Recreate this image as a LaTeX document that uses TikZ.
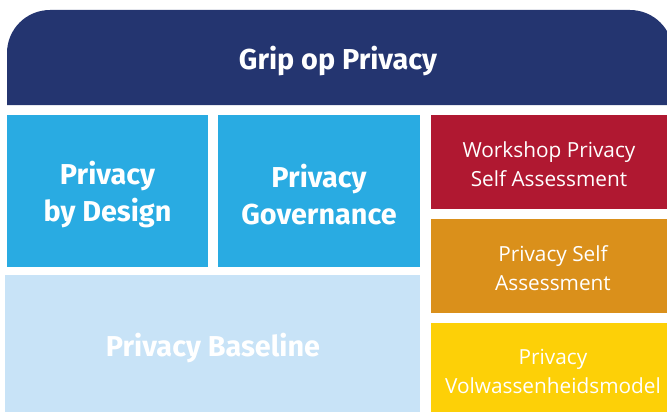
\documentclass[tikz,border=0pt]{standalone}
\usepackage{fontspec}
\setmainfont{Open Sans}
\newfontfamily\boldfam{Fira Sans}[UprightFont=* SemiBold, BoldFont=* Bold]
\definecolor{navy}{HTML}{243570}
\definecolor{skyb}{HTML}{29ABE2}
\definecolor{paleb}{HTML}{C8E3F7}
\definecolor{redb}{HTML}{B01831}
\definecolor{orangeb}{HTML}{DA901B}
\definecolor{yellowb}{HTML}{FDD007}
\tikzset{
  bigtxt/.style={text=white, align=center, font=\boldfam\bfseries\fontsize{28.8}{37}\selectfont},
  smalltxt/.style={text=white, align=center, font=\fontsize{20.8}{29}\selectfont},
}
\begin{document}
\begin{tikzpicture}[x=1pt,y=-1pt]
\useasboundingbox (0,0) rectangle (667,412);
\clip (0,0) rectangle (667,412);
\fill[navy] (7,105) -- (7,53) arc[start angle=180,end angle=270,radius=43] -- (630,10) arc[start angle=270,end angle=360,radius=43] -- (673,105) -- cycle;
\node[bigtxt] (top) at (338,61) {Grip op Privacy};
\fill[skyb] (7,115) rectangle (208,267);
\node[bigtxt] (pbd) at (107.5,194.5) {Privacy\\by Design};
\fill[skyb] (218,115) rectangle (420,267);
\node[bigtxt] (pg) at (319,194.5) {Privacy\\Governance};
\fill[paleb] (5,275) rectangle (420,415);
\node[bigtxt] (pb) at (213,348.5) {Privacy Baseline};
\fill[redb] (431,115) rectangle (670,209);
\node[smalltxt] (wps) at (549,164) {Workshop Privacy\\Self Assessment};
\fill[orangeb] (431,219) rectangle (670,313);
\node[smalltxt] (psa) at (553,268) {Privacy Self\\Assessment};
\fill[yellowb] (431,323) rectangle (670,415);
\node[smalltxt] (pvm) at (553,371) {Privacy\\Volwassenheidsmodel};
\end{tikzpicture}
\end{document}
